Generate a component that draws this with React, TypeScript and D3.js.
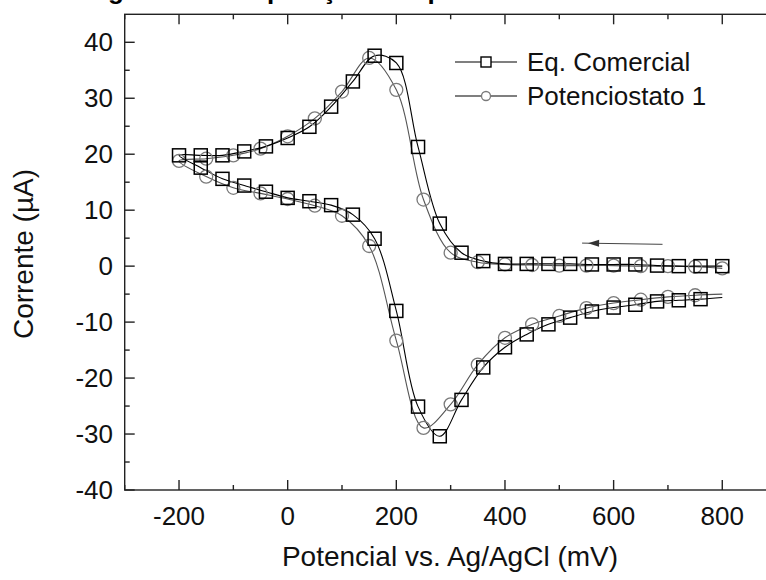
import React from "react";
import * as d3 from "d3";

// ---- Data ----
const seriesNames = ["Eq. Comercial", "Potenciostato 1"];

// Eq. Comercial (squares) — forward branch from 800 mV down to -200 mV
const eqTopPotential = [800, 760, 720, 680, 640, 600, 560, 520, 480, 440, 400, 360, 320, 280, 240, 200, 160, 120, 80, 40, 0, -40, -80, -120, -160, -200];
const eqTopCurrent = [0.0, 0.0, 0.0, 0.1, 0.3, 0.3, 0.3, 0.4, 0.4, 0.4, 0.4, 0.9, 2.4, 7.6, 21.3, 36.3, 37.6, 33.0, 28.5, 24.9, 22.9, 21.4, 20.5, 19.8, 19.8, 19.8];
// reverse branch from -200 mV back to 800 mV
const eqBottomPotential = [-160, -120, -80, -40, 0, 40, 80, 120, 160, 200, 240, 280, 320, 360, 400, 440, 480, 520, 560, 600, 640, 680, 720, 760];
const eqBottomCurrent = [17.6, 15.6, 14.4, 13.3, 12.2, 11.6, 10.9, 9.2, 4.9, -8.0, -25.1, -30.4, -23.9, -18.1, -14.5, -12.2, -10.4, -9.2, -8.1, -7.4, -6.9, -6.3, -6.1, -5.9];
const eqTailPotential = [800];
const eqTailCurrent = [-5.6];

// Potenciostato 1 (circles)
const potTopPotential = [800, 750, 700, 650, 600, 550, 500, 450, 400, 350, 300, 250, 200, 150, 100, 50, 0, -50, -100, -150, -200];
const potTopCurrent = [-0.4, -0.1, 0.0, 0.0, 0.1, 0.1, 0.1, 0.2, 0.3, 0.7, 2.4, 11.9, 31.5, 37.2, 31.2, 26.4, 23.2, 21.0, 19.8, 19.2, 18.8];
const potBottomPotential = [-150, -100, -50, 0, 50, 100, 150, 200, 250, 300, 350, 400, 450, 500, 550, 600, 650, 700, 750];
const potBottomCurrent = [16.0, 14.0, 13.0, 12.0, 10.8, 9.0, 3.6, -13.3, -28.9, -24.7, -17.6, -12.8, -10.4, -8.9, -7.5, -6.6, -6.0, -5.5, -5.2];
const potTailPotential = [800];
const potTailCurrent = [-5.0];

// scan direction arrow (data coords)
const arrowPotential = [690, 553];
const arrowCurrent = [3.9, 4.1];

const xTickValues = [-200, 0, 200, 400, 600, 800];
const xMinorValues = [-300, -100, 100, 300, 500, 700, 900];
const yTickValues = [-40, -30, -20, -10, 0, 10, 20, 30, 40];
const yMinorValues = [-35, -25, -15, -5, 5, 15, 25, 35];

const xTitle = "Potencial vs. Ag/AgCl (mV)";
const yTitle = "Corrente (\u00B5A)";
const caption = "Figura 4 - Comparação dos potenciostatos";

const W = 766;
const H = 580;
const FONT = "'Liberation Sans', Arial, Helvetica, sans-serif";

export default function App() {
  const x = d3.scaleLinear().domain([-300, 900]).range([124.7, 776.6]);
  const y = d3.scaleLinear().domain([-40, 45]).range([490, 14.3]);

  const zip = (a: number[], b: number[]) => a.map((v, i) => [v, b[i]] as [number, number]);

  const eqMarkers = [...zip(eqTopPotential, eqTopCurrent), ...zip(eqBottomPotential, eqBottomCurrent)];
  const eqLinePts = [...eqMarkers, ...zip(eqTailPotential, eqTailCurrent)];
  const potMarkers = [...zip(potTopPotential, potTopCurrent), ...zip(potBottomPotential, potBottomCurrent)];
  const potLinePts = [...potMarkers, ...zip(potTailPotential, potTailCurrent)];

  const line = d3
    .line<[number, number]>()
    .x((d) => x(d[0]))
    .y((d) => y(d[1]))
    .curve(d3.curveCatmullRom.alpha(0.5));

  const x0 = x(-300);
  const x1 = x(900);
  const y0 = y(-40);
  const y1 = y(45);
  const major = 10;
  const minor = 5;
  const axisColor = "#222";

  const sq = 13;
  const cr = 6.5;

  const legX0 = 455;
  const legX1 = 517;
  const legMid = (legX0 + legX1) / 2;
  const legY = [62, 96];

  const ax0 = x(arrowPotential[0]);
  const ay0 = y(arrowCurrent[0]);
  const ax1 = x(arrowPotential[1]);
  const ay1 = y(arrowCurrent[1]);
  const ang = Math.atan2(ay1 - ay0, ax1 - ax0);
  const ah = 11;
  const aw = 3.5;
  const headPts = [
    [ax1, ay1],
    [ax1 - ah * Math.cos(ang) + aw * Math.sin(ang), ay1 - ah * Math.sin(ang) - aw * Math.cos(ang)],
    [ax1 - ah * Math.cos(ang) - aw * Math.sin(ang), ay1 - ah * Math.sin(ang) + aw * Math.cos(ang)],
  ]
    .map((p) => p.join(","))
    .join(" ");

  return (
    <svg
      width={W}
      height={H}
      viewBox={`0 0 ${W} ${H}`}
      style={{ position: "absolute", left: 0, top: 0, background: "#fff" }}
      fontFamily={FONT}
    >
      <rect x={0} y={0} width={W} height={H} fill="#fff" />

      {/* cut-off caption at the very top */}
      <text x={85} y={-1} fontSize={26} fontWeight="bold" fill="#000">
        {caption}
      </text>

      {/* frame */}
      <rect x={x0} y={y1} width={x1 - x0} height={y0 - y1} fill="none" stroke={axisColor} strokeWidth={1.4} />

      {/* x ticks */}
      {xTickValues.map((v) => (
        <g key={"xt" + v}>
          <line x1={x(v)} x2={x(v)} y1={y0} y2={y0 - major} stroke={axisColor} strokeWidth={1.4} />
          <line x1={x(v)} x2={x(v)} y1={y1} y2={y1 + major} stroke={axisColor} strokeWidth={1.4} />
          <text x={x(v)} y={525} fontSize={26} textAnchor="middle" fill="#111">
            {v}
          </text>
        </g>
      ))}
      {xMinorValues.map((v) => (
        <g key={"xm" + v}>
          <line x1={x(v)} x2={x(v)} y1={y0} y2={y0 - minor} stroke={axisColor} strokeWidth={1.4} />
          <line x1={x(v)} x2={x(v)} y1={y1} y2={y1 + minor} stroke={axisColor} strokeWidth={1.4} />
        </g>
      ))}

      {/* y ticks */}
      {yTickValues.map((v) => (
        <g key={"yt" + v}>
          <line x1={x0} x2={x0 + major} y1={y(v)} y2={y(v)} stroke={axisColor} strokeWidth={1.4} />
          <line x1={x1} x2={x1 - major} y1={y(v)} y2={y(v)} stroke={axisColor} strokeWidth={1.4} />
          <text x={113} y={y(v) + 9} fontSize={26} textAnchor="end" fill="#111">
            {v}
          </text>
        </g>
      ))}
      {yMinorValues.map((v) => (
        <g key={"ym" + v}>
          <line x1={x0} x2={x0 + minor} y1={y(v)} y2={y(v)} stroke={axisColor} strokeWidth={1.4} />
          <line x1={x1} x2={x1 - minor} y1={y(v)} y2={y(v)} stroke={axisColor} strokeWidth={1.4} />
        </g>
      ))}

      {/* axis titles */}
      <text x={450} y={566} fontSize={28} textAnchor="middle" fill="#111">
        {xTitle}
      </text>
      <text
        transform={`translate(33, 254) rotate(-90)`}
        fontSize={28}
        textAnchor="middle"
        fill="#111"
      >
        {yTitle}
      </text>

      {/* lines */}
      <path d={line(potLinePts) || ""} fill="none" stroke="#555" strokeWidth={1.1} />
      <path d={line(eqLinePts) || ""} fill="none" stroke="#000" strokeWidth={1.1} />

      {/* markers */}
      {potMarkers.map((d, i) => (
        <circle key={"c" + i} cx={x(d[0])} cy={y(d[1])} r={cr} fill="none" stroke="#7a7a7a" strokeWidth={1.3} />
      ))}
      {eqMarkers.map((d, i) => (
        <rect
          key={"s" + i}
          x={x(d[0]) - sq / 2}
          y={y(d[1]) - sq / 2}
          width={sq}
          height={sq}
          fill="none"
          stroke="#000"
          strokeWidth={1.5}
        />
      ))}

      {/* scan direction arrow */}
      <line x1={ax0} y1={ay0} x2={ax1 + 6 * Math.cos(ang)} y2={ay1 + 6 * Math.sin(ang)} stroke="#444" strokeWidth={1} />
      <polygon points={headPts} fill="#333" />

      {/* legend */}
      <line x1={legX0} x2={legX1} y1={legY[0]} y2={legY[0]} stroke="#000" strokeWidth={1.2} />
      <rect x={legMid - 5} y={legY[0] - 5} width={10} height={10} fill="#fff" stroke="#000" strokeWidth={1.4} />
      <text x={527} y={legY[0] + 9} fontSize={26} fill="#111">
        {seriesNames[0]}
      </text>
      <line x1={legX0} x2={legX1} y1={legY[1]} y2={legY[1]} stroke="#000" strokeWidth={1.2} />
      <circle cx={legMid} cy={legY[1]} r={4.5} fill="#fff" stroke="#7a7a7a" strokeWidth={1.3} />
      <text x={527} y={legY[1] + 9} fontSize={26} fill="#111">
        {seriesNames[1]}
      </text>
    </svg>
  );
}
